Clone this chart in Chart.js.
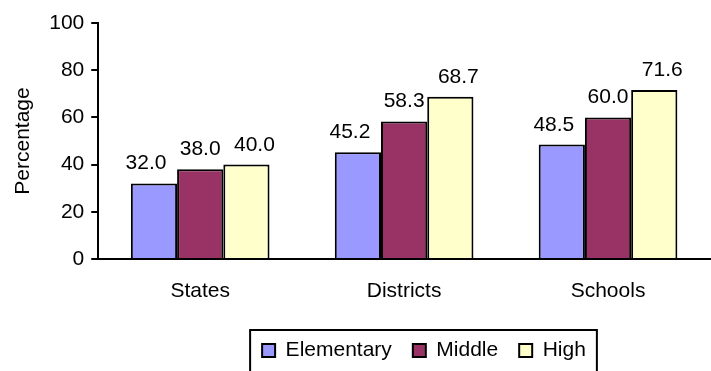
<!DOCTYPE html>
<html>
<head>
<meta charset="utf-8">
<script src="https://cdn.jsdelivr.net/npm/chart.js@4.4.0/dist/chart.umd.min.js"></script>
<style>
  html, body { margin: 0; padding: 0; background: #fff; }
  #wrap { width: 711px; height: 371px; }
</style>
</head>
<body>
<div id="wrap"><canvas id="chart"></canvas></div>
<script>
const categories = ['States', 'Districts', 'Schools'];
const elementary = [32.0, 45.2, 48.5];
const middle = [38.0, 58.3, 60.0];
const high = [40.0, 68.7, 71.6];
const yTicks = [0, 20, 40, 60, 80, 100];

const FONT = 'Liberation Sans, Arial, sans-serif';
const SIZE = 21;

// values over each bar (outer ones pushed a little sideways, as in the original)
const valueLabels = {
  id: 'valueLabels',
  afterDatasetsDraw(chart) {
    const ctx = chart.ctx;
    ctx.save();
    ctx.font = SIZE + 'px ' + FONT;
    ctx.fillStyle = '#000';
    ctx.textAlign = 'center';
    ctx.textBaseline = 'alphabetic';
    chart.data.datasets.forEach((ds, i) => {
      chart.getDatasetMeta(i).data.forEach((bar, j) => {
        ctx.fillText(ds.data[j].toFixed(1), bar.x + (i - 1) * 8, bar.y - 14);
      });
    });
    ctx.restore();
  }
};

// legend: fixed height, moved a bit right, with a box round it
const legendBox = {
  id: 'legendBox',
  afterInit(chart) {
    const l = chart.legend;
    const fit = l.fit.bind(l);
    l.fit = function () { fit(); this.height = 67; };
  },
  afterLayout(chart) {
    const l = chart.legend;
    const dx = 424 - (l.left + l.right) / 2;
    l.left += dx; l.right += dx;
    const h = l.bottom - l.top;
    l.top = 319; l.bottom = 319 + h;
  },
  afterDraw(chart) {
    const boxes = chart.legend.legendHitBoxes;
    if (!boxes || !boxes.length) return;
    const first = boxes[0], last = boxes[boxes.length - 1];
    const ctx = chart.ctx;
    ctx.save();
    ctx.strokeStyle = '#000';
    ctx.lineWidth = 2;
    const left = first.left - 12;
    const right = last.left + last.width + 11;
    const top = first.top - 10;
    ctx.strokeRect(left, top, right - left, chart.height + 10 - top);
    ctx.restore();
  }
};

const config = {
  type: 'bar',
  data: {
    labels: categories,
    datasets: [
      { label: 'Elementary', data: elementary, backgroundColor: '#9999FF', borderColor: '#000', borderWidth: 2 },
      { label: 'Middle', data: middle, backgroundColor: '#993366', borderColor: '#000', borderWidth: 2 },
      { label: 'High', data: high, backgroundColor: '#FFFFCC', borderColor: '#000', borderWidth: 2 }
    ]
  },
  options: {
    responsive: true,
    maintainAspectRatio: false,
    animation: false,
    layout: { padding: { top: 23, right: 1, bottom: 0, left: 5 } },
    datasets: { bar: { categoryPercentage: 0.68, barPercentage: 1 } },
    plugins: {
      tooltip: { enabled: false },
      legend: {
        position: 'bottom',
        labels: {
          color: '#000',
          font: { family: FONT, size: SIZE },
          boxWidth: 13,
          boxHeight: 13,
          padding: 21
        }
      }
    },
    scales: {
      x: {
        grid: { display: false, drawTicks: false },
        border: { color: '#000', width: 2 },
        ticks: { color: '#000', font: { family: FONT, size: SIZE }, padding: 20 },
        afterFit: s => { s.height = 45; }
      },
      y: {
        min: 0,
        max: 100,
        afterBuildTicks: s => { s.ticks = yTicks.map(v => ({ value: v })); },
        grid: { drawOnChartArea: false, drawTicks: true, tickLength: 7, color: '#000', lineWidth: 2 },
        border: { color: '#000', width: 2 },
        ticks: { color: '#000', font: { family: FONT, size: SIZE }, padding: 7 },
        title: { display: true, text: 'Percentage', color: '#000', font: { family: FONT, size: SIZE }, padding: 6 }
      }
    }
  },
  plugins: [valueLabels, legendBox]
};

const chart = new Chart(document.getElementById('chart'), config);
</script>
</body>
</html>
